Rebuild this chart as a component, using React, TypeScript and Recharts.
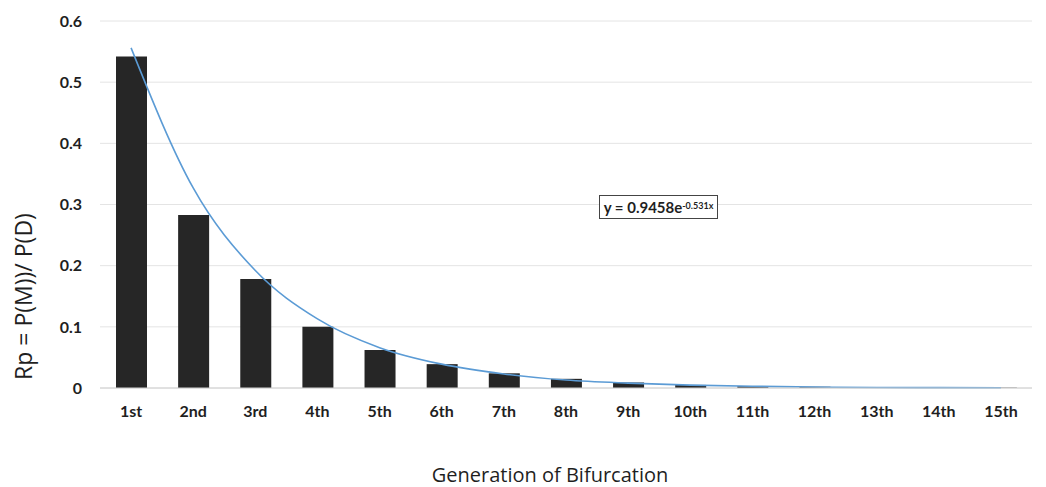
import React from "react";
import { Bar, CartesianGrid, ComposedChart, Line, XAxis, YAxis } from "recharts";

const GENERATIONS = ["1st", "2nd", "3rd", "4th", "5th", "6th", "7th", "8th", "9th", "10th", "11th", "12th", "13th", "14th", "15th"];
const RP_VALUES = [0.542, 0.283, 0.178, 0.1, 0.062, 0.039, 0.024, 0.015, 0.009, 0.005, 0.003, 0.002, 0.001, 0.001, 0.0005];
// trendline y = 0.9458e^-0.531x at each generation
const TREND_VALUES = [0.556, 0.327, 0.192, 0.113, 0.066, 0.039, 0.023, 0.013, 0.008, 0.0047, 0.0028, 0.0016, 0.0009, 0.0006, 0.0003];
const Y_TICKS = [0, 0.1, 0.2, 0.3, 0.4, 0.5, 0.6];

const data = GENERATIONS.map((g, i) => ({ gen: g, rp: RP_VALUES[i], trend: TREND_VALUES[i] }));

const TICK = { fill: "#1f1f1f", fontSize: 16, fontWeight: 700, fontFamily: "Lato, 'Open Sans', sans-serif" } as const;

function YTitle(props: any) {
  const vb = props.viewBox;
  const cx = 23;
  const cy = vb.y + vb.height / 2 + 92;
  return (
    <text x={cx} y={cy} transform={`rotate(-90 ${cx} ${cy})`} textAnchor="middle" dominantBaseline="central" fontSize={23} fill="#1f1f1f" fontFamily="'Open Sans', sans-serif">
      Rp = P(M))/ P(D)
    </text>
  );
}

function XTitle(props: any) {
  const vb = props.viewBox;
  return (
    <text x={vb.x + vb.width / 2 - 16} y={474} textAnchor="middle" dominantBaseline="central" fontSize={20} fill="#1f1f1f" fontFamily="'Liberation Sans Narrow', 'Open Sans', sans-serif">
      Generation of Bifurcation
    </text>
  );
}

export default function App() {
  return (
    <div style={{ position: "absolute", left: 0, top: 0, width: 1046, height: 487, background: "#fff" }}>
      <ComposedChart width={1046} height={487} data={data} margin={{ top: 21, right: 14, bottom: 0, left: 0 }}>
        <CartesianGrid stroke="#e4e4e4" vertical={false} />
        <XAxis
          dataKey="gen"
          tick={TICK}
          tickLine={false}
          tickSize={0}
          tickMargin={18}
          axisLine={{ stroke: "#d0d0d0" }}
          height={99}
          interval={0}
          label={<XTitle />}
        />
        <YAxis
          domain={[0, 0.6]}
          ticks={Y_TICKS}
          tick={TICK}
          tickLine={false}
          tickSize={0}
          tickMargin={18}
          axisLine={false}
          width={100}
          label={<YTitle />}
        />
        <Bar dataKey="rp" fill="#262626" barSize={31} isAnimationActive={false} />
        <Line dataKey="trend" type="monotone" stroke="#5b9bd5" strokeWidth={1.6} dot={false} isAnimationActive={false} />
      </ComposedChart>
      <div
        style={{
          position: "absolute",
          left: 599,
          top: 195,
          width: 119,
          height: 24,
          border: "1.5px solid #444",
          background: "#fff",
          boxSizing: "border-box",
          fontFamily: "Lato, 'Open Sans', sans-serif",
          fontWeight: 700,
          fontSize: 15,
          color: "#1f1f1f",
          display: "flex",
          alignItems: "center",
          justifyContent: "center",
          whiteSpace: "nowrap",
        }}
      >
        y = 0.9458e<sup style={{ fontSize: 9, position: "relative", top: -2 }}>-0.531x</sup>
      </div>
    </div>
  );
}
